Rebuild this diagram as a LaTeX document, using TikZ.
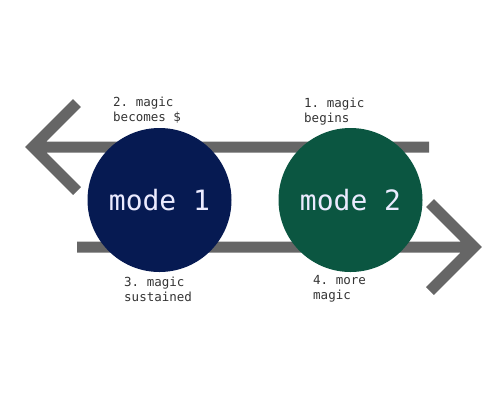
\documentclass[tikz,border=0pt]{standalone}
\usepackage{fontspec}
\setmonofont{DejaVu Sans Mono}
\definecolor{modeblue}{HTML}{061A52}
\definecolor{modegreen}{HTML}{0B5641}
\definecolor{arrowgray}{HTML}{666666}
\definecolor{labelgray}{HTML}{333333}

\begin{document}
\begin{tikzpicture}[x=1pt,y=-1pt]
	% `mode' is used for the two big circles.
	% `steplabel' is used for the small numbered texts.
	\tikzstyle{mode} = [circle,minimum size=144pt,inner sep=0pt,text=white!92!blue,
		font=\ttfamily\fontsize{28}{34}\selectfont]
	\tikzstyle{steplabel} = [anchor=north west,inner sep=0pt,align=left,text=labelgray,
		font=\ttfamily\fontsize{12.5}{15}\selectfont]
	\tikzstyle{bigarrow} = [draw=arrowgray,line width=11pt,miter limit=10,line join=miter]
	%
	\useasboundingbox (0,0) rectangle (500,400);
	% Arrow ends.
	\coordinate (topstart) at (429,147);
	\coordinate (toptip) at (33,147);
	\coordinate (topwing1) at (77,103);
	\coordinate (topwing2) at (77,191);
	\coordinate (botstart) at (77,247);
	\coordinate (bottip) at (474,247);
	\coordinate (botwing1) at (430,203);
	\coordinate (botwing2) at (430,291);
	% Draw arrows.
	\draw[bigarrow] (topstart) -- (toptip) (topwing1) -- (toptip) -- (topwing2);
	\draw[bigarrow] (botstart) -- (bottip) (botwing1) -- (bottip) -- (botwing2);
	% Circles on top.
	\node[mode,fill=modeblue] (mode1) at (159.5,200) {mode 1};
	\node[mode,fill=modegreen] (mode2) at (350.5,200) {mode 2};
	% Labels.
	\node[steplabel] (begins) at (304,98) {1. magic\\begins};
	\node[steplabel] (becomes) at (113,97) {2. magic\\becomes \$};
	\node[steplabel] (sustained) at (124,277) {3. magic\\sustained};
	\node[steplabel] (more) at (313,275) {4. more\\magic};
\end{tikzpicture}
\end{document}
